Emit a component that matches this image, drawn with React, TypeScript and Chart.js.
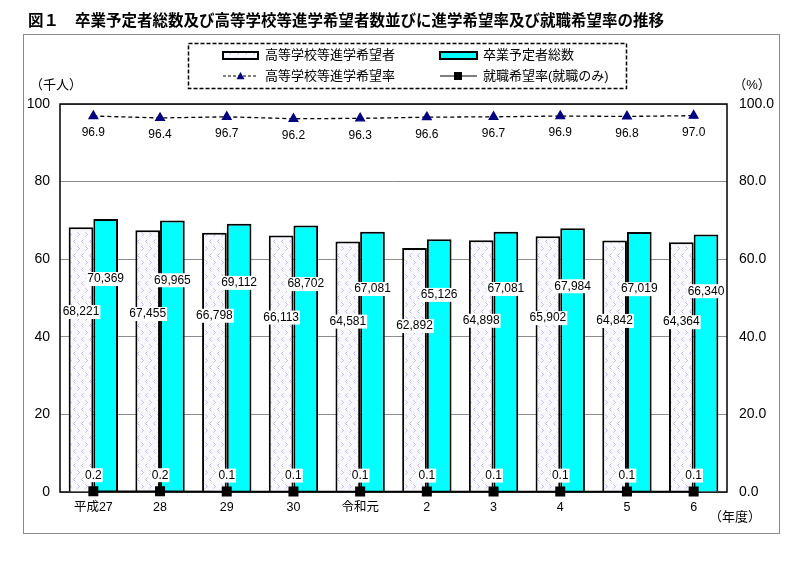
import React, { useEffect, useRef } from 'react';
import { Chart, registerables } from 'chart.js';

Chart.register(...registerables);

// ---- data ----
const categories = ['平成27', '28', '29', '30', '令和元', '2', '3', '4', '5', '6'];
const applicants = [68221, 67455, 66798, 66113, 64581, 62892, 64898, 65902, 64842, 64364];
const graduates = [70369, 69965, 69112, 68702, 67081, 65126, 67081, 67984, 67019, 66340];
const advanceRate = [96.9, 96.4, 96.7, 96.2, 96.3, 96.6, 96.7, 96.9, 96.8, 97.0];
const jobRate = [0.2, 0.2, 0.1, 0.1, 0.1, 0.1, 0.1, 0.1, 0.1, 0.1];

const titleNo = '図１';
const titleText = '卒業予定者総数及び高等学校等進学希望者数並びに進学希望率及び就職希望率の推移';
const seriesNames = ['高等学校等進学希望者', '卒業予定者総数', '高等学校等進学希望率', '就職希望率(就職のみ)'];
const leftUnit = '（千人）';
const rightUnit = '（%）';
const xUnit = '（年度）';

const FONT = "'Liberation Sans', 'Noto Sans CJK JP', sans-serif";
const NAVY = '#000080';
const CYAN = '#00ffff';

function makePattern(): CanvasPattern | string {
  const c = document.createElement('canvas');
  c.width = 8;
  c.height = 14;
  const g = c.getContext('2d');
  if (!g) return '#f0f0f8';
  g.fillStyle = '#f9f9fd';
  g.fillRect(0, 0, 8, 14);
  g.strokeStyle = '#b7b7e4';
  g.lineWidth = 1;
  g.beginPath();
  g.moveTo(3.5, 1.5); g.lineTo(1.5, 3.5); g.lineTo(3.5, 5.5);
  g.moveTo(5.5, 8.5); g.lineTo(7.5, 10.5); g.lineTo(5.5, 12.5);
  g.stroke();
  const p = g.createPattern(c, 'repeat');
  return p || '#f0f0f8';
}

function fmt(n: number) {
  return n.toLocaleString('en-US');
}

function drawTriangle(ctx: CanvasRenderingContext2D, x: number, y: number, r: number) {
  ctx.beginPath();
  ctx.moveTo(x, y - r);
  ctx.lineTo(x + r, y + r * 0.8);
  ctx.lineTo(x - r, y + r * 0.8);
  ctx.closePath();
  ctx.fill();
}

export default function App() {
  const ref = useRef<HTMLCanvasElement>(null);

  useEffect(() => {
    const canvas = ref.current;
    if (!canvas) return;
    const pattern = makePattern();

    const decor = {
      id: 'decor',
      beforeDatasetsDraw(chart: any) {
        const { ctx, chartArea: a } = chart;
        ctx.save();
        ctx.strokeStyle = '#000';
        ctx.lineWidth = 1.5;
        ctx.strokeRect(a.left, a.top, a.right - a.left, a.bottom - a.top);
        ctx.restore();
      },
      afterDatasetsDraw(chart: any) {
        const { ctx } = chart;
        const yS = chart.scales.y;
        ctx.save();
        ctx.font = `12px ${FONT}`;
        ctx.textAlign = 'center';
        ctx.textBaseline = 'middle';
        const boxLabel = (txt: string, x: number, y: number) => {
          const w = ctx.measureText(txt).width;
          ctx.fillStyle = '#fff';
          ctx.fillRect(x - w / 2 - 1, y - 7, w + 2, 14);
          ctx.fillStyle = '#000';
          ctx.fillText(txt, x, y);
        };
        const m0 = chart.getDatasetMeta(0);
        const m1 = chart.getDatasetMeta(1);
        const m2 = chart.getDatasetMeta(2);
        const m3 = chart.getDatasetMeta(3);
        applicants.forEach((v, i) => {
          boxLabel(fmt(v), m0.data[i].x, yS.getPixelForValue((v / 1000) * 0.68));
        });
        graduates.forEach((v, i) => {
          boxLabel(fmt(v), m1.data[i].x, yS.getPixelForValue((v / 1000) * 0.78));
        });
        advanceRate.forEach((v, i) => {
          ctx.fillStyle = '#000';
          ctx.fillText(v.toFixed(1), m2.data[i].x, m2.data[i].y + 17);
        });
        jobRate.forEach((v, i) => {
          boxLabel(v.toFixed(1), m3.data[i].x, m3.data[i].y - 16);
        });
        ctx.restore();
      },
      afterDraw(chart: any) {
        const { ctx } = chart;
        ctx.save();
        // outer frame
        ctx.strokeStyle = '#8a8a8a';
        ctx.lineWidth = 1;
        ctx.strokeRect(23.5, 34.5, 756, 499);
        // title
        ctx.fillStyle = '#000';
        ctx.textBaseline = 'middle';
        ctx.textAlign = 'left';
        ctx.font = `bold 15.5px 'Noto Sans CJK JP', sans-serif`;
        ctx.fillText(titleNo, 28, 20);
        ctx.fillText(titleText, 75, 20);
        // units
        ctx.font = `13px ${FONT}`;
        ctx.textAlign = 'center';
        ctx.fillText(leftUnit, 56, 85);
        ctx.fillText(rightUnit, 752, 85);
        ctx.fillText(xUnit, 735, 517);
        // legend box
        ctx.setLineDash([4, 2]);
        ctx.lineWidth = 1.5;
        ctx.strokeStyle = '#000';
        ctx.strokeRect(188.5, 43.5, 438, 45);
        ctx.setLineDash([]);
        const r1 = 55, r2 = 76;
        // swatch 1
        ctx.fillStyle = pattern as any;
        ctx.fillRect(223, r1 - 3, 35, 7);
        ctx.lineWidth = 2;
        ctx.strokeRect(223, r1 - 3, 35, 7);
        // swatch 2
        ctx.fillStyle = CYAN;
        ctx.fillRect(440, r1 - 3, 37, 7);
        ctx.strokeRect(440, r1 - 3, 37, 7);
        // line swatch 1 (dashed + triangle)
        ctx.lineWidth = 1.2;
        ctx.setLineDash([3, 2]);
        ctx.beginPath();
        ctx.moveTo(223, r2); ctx.lineTo(258, r2); ctx.stroke();
        ctx.setLineDash([]);
        ctx.fillStyle = NAVY;
        drawTriangle(ctx, 240.5, r2, 4);
        // line swatch 2 (solid + square)
        ctx.beginPath();
        ctx.moveTo(440, r2); ctx.lineTo(477, r2); ctx.stroke();
        ctx.fillStyle = '#000';
        ctx.fillRect(454, r2 - 4, 8, 8);
        // legend text
        ctx.font = `13px ${FONT}`;
        ctx.textAlign = 'left';
        ctx.fillStyle = '#000';
        ctx.fillText(seriesNames[0], 265, r1);
        ctx.fillText(seriesNames[1], 483, r1);
        ctx.fillText(seriesNames[2], 265, r2);
        ctx.fillText(seriesNames[3], 483, r2);
        ctx.restore();
      },
    };

    const chart = new Chart(canvas, {
      type: 'bar',
      data: {
        labels: categories,
        datasets: [
          {
            type: 'bar',
            label: seriesNames[0],
            data: applicants.map((v) => v / 1000),
            backgroundColor: pattern as any,
            borderColor: '#000',
            borderWidth: 2,
            yAxisID: 'y',
            order: 2,
            categoryPercentage: 0.74,
            barPercentage: 1.0,
          },
          {
            type: 'bar',
            label: seriesNames[1],
            data: graduates.map((v) => v / 1000),
            backgroundColor: CYAN,
            borderColor: '#000',
            borderWidth: 2,
            yAxisID: 'y',
            order: 2,
            categoryPercentage: 0.74,
            barPercentage: 1.0,
          },
          {
            type: 'line',
            label: seriesNames[2],
            data: advanceRate,
            borderColor: '#000',
            borderWidth: 1.3,
            borderDash: [4, 3],
            pointStyle: 'triangle',
            pointRadius: 5,
            pointBackgroundColor: NAVY,
            pointBorderColor: NAVY,
            yAxisID: 'y1',
            order: 0,
            clip: false,
          },
          {
            type: 'line',
            label: seriesNames[3],
            data: jobRate,
            borderColor: '#000',
            borderWidth: 1.5,
            pointStyle: 'rect',
            pointRadius: 6,
            pointBackgroundColor: '#000',
            pointBorderColor: '#000',
            yAxisID: 'y1',
            order: 0,
            clip: false,
          },
        ] as any,
      },
      options: {
        responsive: false,
        animation: false,
        layout: { padding: { top: 104, left: 0, right: 0, bottom: 0 } },
        plugins: {
          legend: { display: false },
          title: { display: false },
          tooltip: { enabled: false },
        },
        scales: {
          x: {
            grid: { display: false, drawTicks: false },
            border: { display: false },
            ticks: { padding: 8, color: '#000', font: { family: FONT, size: 12.5 }, maxRotation: 0, autoSkip: false },
            afterFit: (s: any) => { s.height = 79; },
          },
          y: {
            position: 'left',
            min: 0,
            max: 100,
            ticks: { stepSize: 20, padding: 10, color: '#000', font: { family: FONT, size: 14 } },
            grid: { color: '#8c8c8c', drawTicks: false, lineWidth: 1 },
            border: { display: false },
            afterFit: (s: any) => { s.width = 60; },
          },
          y1: {
            position: 'right',
            min: 0,
            max: 100,
            ticks: { stepSize: 20, padding: 12, color: '#000', font: { family: FONT, size: 14 }, callback: (v: any) => Number(v).toFixed(1) },
            grid: { display: false, drawTicks: false },
            border: { display: false },
            afterFit: (s: any) => { s.width = 73; },
          },
        },
      } as any,
      plugins: [decor],
    });

    return () => chart.destroy();
  }, []);

  return (
    <div style={{ position: 'absolute', left: 0, top: 0, width: 800, height: 571, background: '#fff' }}>
      <canvas ref={ref} width={800} height={571} style={{ width: 800, height: 571, display: 'block' }} />
    </div>
  );
}
